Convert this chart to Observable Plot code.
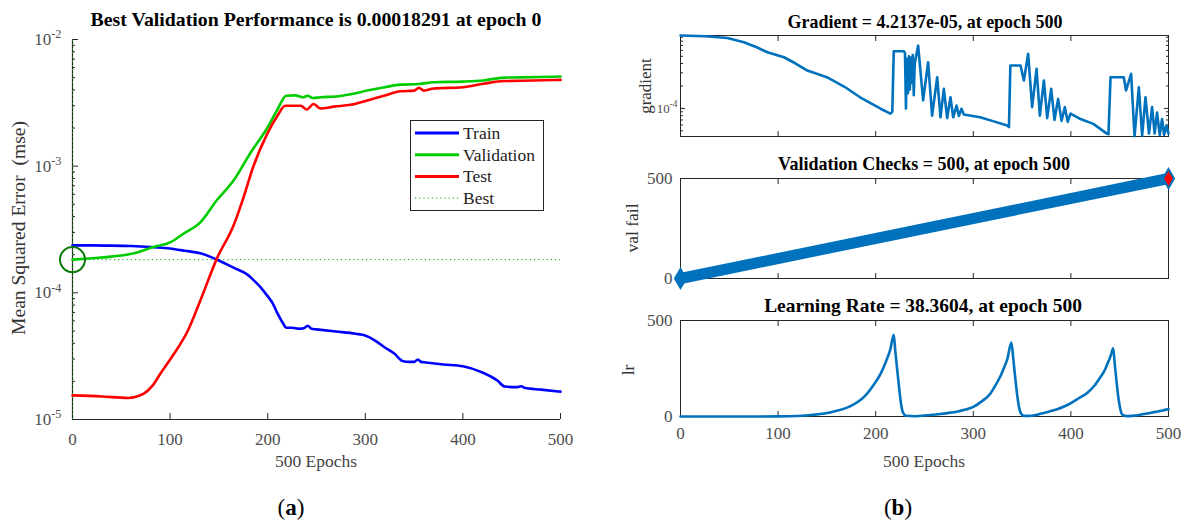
<!DOCTYPE html>
<html>
<head>
<meta charset="utf-8">
<script src="https://cdn.jsdelivr.net/npm/d3@7"></script>
<script src="https://cdn.jsdelivr.net/npm/@observablehq/plot@0.6"></script>
<style>
  body { margin: 0; background: #fff; }
  #root { position: relative; width: 1189px; height: 525px; overflow: hidden; background: #fff;
          font-family: "Liberation Serif", "Times New Roman", serif; }
  .pane { position: absolute; }
  .pane svg { display: block; max-width: none !important; }
  #overlay { position: absolute; left: 0; top: 0; pointer-events: none; }
</style>
</head>
<body>
<div id="root"></div>
<script>
// ---------------- Panel (a): performance ----------------
const trainEpochs = [0, 20, 40, 60, 80, 97, 115, 131, 150, 165, 180, 186, 193, 199.5, 205, 209.5, 216, 219, 225, 232, 237, 241, 245, 250, 270, 290, 300, 310, 320, 330, 338, 345, 350, 354, 357, 362, 380, 400, 420, 435, 443, 455, 460, 463, 480, 500];
const trainMse    = [2.37e-4, 2.37e-4, 2.36e-4, 2.34e-4, 2.30e-4, 2.25e-4, 2.15e-4, 2.05e-4, 1.80e-4, 1.58e-4, 1.38e-4, 1.25e-4, 1.10e-4, 9.5e-5, 8.3e-5, 7.0e-5, 5.7e-5, 5.3e-5, 5.3e-5, 5.2e-5, 5.25e-5, 5.5e-5, 5.2e-5, 5.15e-5, 4.95e-5, 4.75e-5, 4.6e-5, 4.2e-5, 3.7e-5, 3.3e-5, 2.9e-5, 2.85e-5, 2.85e-5, 2.98e-5, 2.85e-5, 2.82e-5, 2.72e-5, 2.63e-5, 2.35e-5, 2.04e-5, 1.82e-5, 1.80e-5, 1.83e-5, 1.78e-5, 1.72e-5, 1.66e-5];

const valEpochs = [0, 29, 63, 83, 100, 114, 131, 148, 165, 182, 199.5, 209.5, 219, 228, 236, 241, 246, 254, 270, 285, 302, 320, 336, 355, 370, 400, 421, 442, 460, 500];
const valMse    = [1.8291e-4, 1.9e-4, 2.05e-4, 2.3e-4, 2.5e-4, 2.94e-4, 3.6e-4, 5.4e-4, 7.7e-4, 1.26e-3, 2.0e-3, 2.75e-3, 3.6e-3, 3.62e-3, 3.5e-3, 3.6e-3, 3.45e-3, 3.5e-3, 3.55e-3, 3.7e-3, 3.95e-3, 4.2e-3, 4.4e-3, 4.45e-3, 4.6e-3, 4.65e-3, 4.75e-3, 5.0e-3, 5.02e-3, 5.1e-3];

const testEpochs = [0, 30, 57, 73, 82, 90, 104, 118, 131, 148, 165, 175, 185, 199.5, 210, 218, 228, 234, 240, 247, 254, 268, 285, 302, 319, 336, 350, 355, 360, 370, 400, 421, 442, 460, 500];
const testMse    = [1.55e-5, 1.52e-5, 1.48e-5, 1.6e-5, 1.85e-5, 2.3e-5, 3.3e-5, 5.0e-5, 8.7e-5, 1.87e-4, 3.4e-4, 5.6e-4, 9.8e-4, 1.8e-3, 2.5e-3, 3.0e-3, 3.0e-3, 3.0e-3, 2.8e-3, 3.1e-3, 2.85e-3, 2.95e-3, 3.05e-3, 3.3e-3, 3.6e-3, 3.9e-3, 3.95e-3, 4.15e-3, 3.95e-3, 4.1e-3, 4.2e-3, 4.47e-3, 4.7e-3, 4.72e-3, 4.8e-3];

const bestEpoch = 0;
const bestPerf = 0.00018291;

const perfTicks = [1e-5, 1e-4, 1e-3, 1e-2];
const perfMinorTicks = [2e-5,3e-5,4e-5,5e-5,6e-5,7e-5,8e-5,9e-5, 2e-4,3e-4,4e-4,5e-4,6e-4,7e-4,8e-4,9e-4, 2e-3,3e-3,4e-3,5e-3,6e-3,7e-3,8e-3,9e-3];
const epochTicks = [0, 100, 200, 300, 400, 500];
const innerEpochTicks = [100, 200, 300, 400];

// ---------------- Panel (b): training state ----------------
const gradEpochs = [0, 25, 48, 65, 78, 89, 106, 118, 130, 150, 168, 184, 205, 215, 217, 218.5, 229, 230, 231, 232, 233, 234, 235, 236, 237, 238, 239, 240, 243.5, 248.6, 253.7, 257.8, 263, 266.4, 269.8, 273.2, 276.6, 279.4, 282.8, 285.2, 287.9, 290.3, 307, 321, 334.7, 336.5, 338, 348.4, 351.8, 356.2, 360.3, 364.8, 368.2, 372.3, 375.7, 379.8, 383.2, 386.9, 390.4, 393.8, 396.7, 399.6, 409.8, 423, 437.2, 438.5, 440.6, 454.2, 456.5, 461.7, 465.2, 469.6, 473, 476.4, 480, 483.2, 485.8, 488.3, 491, 493.4, 495.5, 497.8, 500];
const gradValues = [9.5e-4, 9.3e-4, 8.8e-4, 7.7e-4, 6.6e-4, 5.66e-4, 4.85e-4, 4.0e-4, 3.22e-4, 2.62e-4, 1.95e-4, 1.41e-4, 9.9e-5, 8.5e-5, 9.0e-5, 5.84e-4, 5.84e-4, 5.5e-4, 1.0e-4, 4.6e-4, 1.6e-4, 5.0e-4, 1.8e-4, 4.8e-4, 2.2e-4, 5.2e-4, 1.5e-4, 4.0e-4, 6.97e-4, 1.28e-4, 4.16e-4, 8.0e-5, 2.62e-4, 7.6e-5, 1.83e-4, 7.4e-5, 1.41e-4, 7.6e-5, 1.09e-4, 7.9e-5, 9.9e-5, 8.3e-5, 7.6e-5, 6.7e-5, 5.9e-5, 5.6e-5, 3.76e-4, 3.76e-4, 2.37e-4, 5.4e-4, 1.04e-4, 3.39e-4, 8.0e-5, 2.37e-4, 7.4e-5, 1.83e-4, 7.0e-5, 1.34e-4, 6.8e-5, 1.04e-4, 6.6e-5, 8.5e-5, 7.2e-5, 6.2e-5, 4.56e-5, 4.5e-5, 2.62e-4, 2.62e-4, 1.74e-4, 2.91e-4, 4.25e-5, 1.92e-4, 4.3e-5, 1.41e-4, 4.6e-5, 1.04e-4, 4.6e-5, 8.8e-5, 4.4e-5, 7.2e-5, 4.4e-5, 5.9e-5, 4.6e-5];
const gradTicks = [1e-4];
const gradMinorTicks = [5e-5,6e-5,7e-5,8e-5,9e-5, 2e-4,3e-4,4e-4,5e-4,6e-4,7e-4,8e-4,9e-4];

const valFailEpochs = [0, 500];
const valFail = [0, 500];
const valFailTicks = [0, 500];

const lrEpochs = [0, 50, 100, 120, 136, 150, 157, 170, 177, 185, 191, 198, 205, 210, 215, 218.5, 220, 222, 224, 226, 228, 231, 240, 246, 256, 266, 275, 283, 292, 300, 309, 317.6, 323, 328, 332, 335, 339, 341, 343, 345, 347, 349, 352, 360, 369, 378, 386, 393, 400, 408, 417, 424, 430, 434, 437, 441, 443.3, 445, 447, 449, 451, 453, 458, 470, 478, 487, 494, 500];
const lrValues = [0.01, 0.05, 0.6, 3, 9, 18, 26, 45, 62, 88, 118, 165, 222, 280, 350, 425, 345, 245, 150, 65, 20, 4, 1.5, 4, 8, 13, 19, 25, 36, 50, 80, 120, 165, 212, 260, 302, 385, 300, 200, 110, 45, 14, 3, 4, 14, 26, 38, 52, 70, 95, 124, 160, 203, 235, 269, 320, 355, 270, 170, 85, 30, 8, 2, 8, 16, 24, 31, 38.36];
const lrTicks = [0, 500];

// ---------------- helpers ----------------
const zipXY = (xs, ys, kx, ky) => xs.map((x, i) => ({[kx]: x, [ky]: ys[i]}));
const AX = "#262626", TXT = "#4d4d4d", MATBLUE = "#0072bd";
const FONT = "Liberation Serif, Times New Roman, serif";
const baseStyle = {fontFamily: FONT, fontSize: "17px", color: TXT, background: "transparent", overflow: "visible"};
const blank = () => "";
const pow10 = d => "10^" + Math.round(Math.log10(d));

function superscripts(svg) {
  svg.querySelectorAll("text").forEach(t => {
    const m = /^10\^(-?\d+)$/.exec(t.textContent);
    if (!m) return;
    while (t.firstChild) t.removeChild(t.firstChild);
    t.appendChild(document.createTextNode("10"));
    const ts = document.createElementNS("http://www.w3.org/2000/svg", "tspan");
    ts.setAttribute("dy", "-0.55em");
    ts.setAttribute("font-size", "0.72em");
    ts.textContent = m[1];
    t.appendChild(ts);
  });
}

const root = document.getElementById("root");
function place(el, left, top) {
  const d = document.createElement("div");
  d.className = "pane";
  d.style.left = left + "px"; d.style.top = top + "px";
  d.appendChild(el);
  root.appendChild(d);
}

// ---------------- Panel (a) ----------------
const train = zipXY(trainEpochs, trainMse, "epoch", "mse");
const val = zipXY(valEpochs, valMse, "epoch", "mse");
const test = zipXY(testEpochs, testMse, "epoch", "mse");
const GREEN = "#00cc00";

const plotA = Plot.plot({
  width: 600, height: 470,
  marginLeft: 72, marginRight: 40, marginTop: 39, marginBottom: 51,
  x: {domain: [0, 500]},
  y: {type: "log", domain: [1e-5, 1e-2]},
  style: baseStyle,
  marks: [
    Plot.ruleX([0], {stroke: AX, strokeWidth: 1.2}),
    Plot.ruleY([1e-5], {stroke: AX, strokeWidth: 1.2}),
    Plot.axisY(perfMinorTicks, {tickSize: -3, tickFormat: blank, stroke: AX, label: null}),
    Plot.axisY(perfTicks, {tickSize: -6, tickPadding: 17, tickFormat: pow10, stroke: AX, fill: TXT, label: null}),
    Plot.axisX(epochTicks, {tickSize: -6, tickPadding: 19, stroke: AX, fill: TXT, label: null}),
    Plot.ruleX([bestEpoch], {y1: 1e-5, y2: 1e-2, stroke: "#00a800", strokeDasharray: "1.2,3"}),
    Plot.ruleY([bestPerf], {x1: 0, x2: 500, stroke: "#00a800", strokeDasharray: "1.2,3"}),
    Plot.line(train, {x: "epoch", y: "mse", stroke: "#0000ff", strokeWidth: 2.6, curve: "monotone-x"}),
    Plot.line(val, {x: "epoch", y: "mse", stroke: GREEN, strokeWidth: 2.6, curve: "monotone-x"}),
    Plot.line(test, {x: "epoch", y: "mse", stroke: "#ff0000", strokeWidth: 2.6, curve: "monotone-x"}),
    Plot.dot([{epoch: bestEpoch, mse: bestPerf}], {x: "epoch", y: "mse", r: 12.5, stroke: "#0b7a0b", strokeWidth: 2, fill: "none"})
  ]
});
superscripts(plotA);
place(plotA, 0, 0);

// ---------------- Panel (b) gradient ----------------
const grad = zipXY(gradEpochs, gradValues, "epoch", "g");
const plotG = Plot.plot({
  width: 589, height: 150,
  marginLeft: 80, marginRight: 21, marginTop: 35, marginBottom: 14,
  x: {domain: [0, 500]},
  y: {type: "log", domain: [4.2e-5, 9.5e-4]},
  style: baseStyle,
  marks: [
    Plot.frame({stroke: AX}),
    Plot.axisX(innerEpochTicks, {anchor: "bottom", tickSize: -5, tickFormat: blank, stroke: AX, label: null}),
    Plot.axisX(innerEpochTicks, {anchor: "top", tickSize: -5, tickFormat: blank, stroke: AX, label: null}),
    Plot.axisY(gradMinorTicks, {anchor: "left", tickSize: -3, tickFormat: blank, stroke: AX, label: null}),
    Plot.axisY(gradMinorTicks, {anchor: "right", tickSize: -3, tickFormat: blank, stroke: AX, label: null}),
    Plot.axisY(gradTicks, {anchor: "left", tickSize: -5, tickPadding: 8, tickFormat: pow10, stroke: AX, fill: TXT, fontSize: 13, label: null}),
    Plot.axisY(gradTicks, {anchor: "right", tickSize: -5, tickFormat: blank, stroke: AX, label: null}),
    Plot.line(grad, {x: "epoch", y: "g", stroke: MATBLUE, strokeWidth: 2.6})
  ]
});
superscripts(plotG);
place(plotG, 600, 0);

// ---------------- Panel (b) validation checks ----------------
const vf = zipXY(valFailEpochs, valFail, "epoch", "fails");
const plotV = Plot.plot({
  width: 589, height: 140,
  marginLeft: 80, marginRight: 21, marginTop: 28, marginBottom: 12,
  x: {domain: [0, 500]},
  y: {domain: [0, 500]},
  style: baseStyle,
  marks: [
    Plot.frame({stroke: AX}),
    Plot.axisX(innerEpochTicks, {anchor: "bottom", tickSize: -5, tickFormat: blank, stroke: AX, label: null}),
    Plot.axisX(innerEpochTicks, {anchor: "top", tickSize: -5, tickFormat: blank, stroke: AX, label: null}),
    Plot.axisY(valFailTicks, {anchor: "left", tickSize: -5, tickPadding: 13, stroke: AX, fill: TXT, label: null}),
    Plot.line(vf, {x: "epoch", y: "fails", stroke: MATBLUE, strokeWidth: 11}),
    Plot.dot(vf, {x: "epoch", y: "fails", symbol: "diamond", r: 7, fill: MATBLUE}),
    Plot.dot(vf.slice(-1), {x: "epoch", y: "fails", symbol: "diamond", r: 4.5, fill: "#ff0000"})
  ]
});
place(plotV, 600, 150);

// ---------------- Panel (b) learning rate ----------------
const lr = zipXY(lrEpochs, lrValues, "epoch", "lr");
const plotL = Plot.plot({
  width: 589, height: 165,
  marginLeft: 80, marginRight: 21, marginTop: 25, marginBottom: 44,
  x: {domain: [0, 500]},
  y: {domain: [0, 500]},
  style: baseStyle,
  marks: [
    Plot.frame({stroke: AX}),
    Plot.axisX(epochTicks, {anchor: "bottom", tickSize: -5, tickPadding: 15, stroke: AX, fill: TXT, label: null}),
    Plot.axisX(innerEpochTicks, {anchor: "top", tickSize: -5, tickFormat: blank, stroke: AX, label: null}),
    Plot.axisY(lrTicks, {anchor: "left", tickSize: -5, tickPadding: 13, stroke: AX, fill: TXT, label: null}),
    Plot.line(lr, {x: "epoch", y: "lr", stroke: MATBLUE, strokeWidth: 2.6, curve: "monotone-x"})
  ]
});
place(plotL, 600, 295);

// ---------------- Titles, labels, legend ----------------
const NS = "http://www.w3.org/2000/svg";
const ov = document.createElementNS(NS, "svg");
ov.setAttribute("id", "overlay");
ov.setAttribute("width", 1189); ov.setAttribute("height", 525);
ov.setAttribute("font-family", FONT);
root.appendChild(ov);

function txt(str, x, y, opts = {}) {
  const t = document.createElementNS(NS, "text");
  t.setAttribute("x", x); t.setAttribute("y", y);
  t.setAttribute("text-anchor", opts.anchor || "middle");
  t.setAttribute("font-size", opts.size || 17);
  t.setAttribute("fill", opts.fill || "#000");
  t.setAttribute("xml:space", "preserve");
  t.style.whiteSpace = "pre";
  if (opts.bold) t.setAttribute("font-weight", "bold");
  if (opts.rotate) t.setAttribute("transform", `rotate(-90 ${x} ${y})`);
  t.textContent = str;
  ov.appendChild(t);
  if (opts.width) {
    const w = t.getComputedTextLength();
    if (w > 0) t.setAttribute("font-size", (opts.size || 17) * opts.width / w);
  }
  return t;
}

const titleA = `Best Validation Performance is ${bestPerf.toFixed(8)} at epoch ${bestEpoch}`;
txt(titleA, 316, 26, {bold: true, size: 17, width: 451});
txt("Mean Squared Error  (mse)", 25, 228, {rotate: true, size: 17.5, fill: "#333", width: 214});
txt("500 Epochs", 316, 467, {size: 17.5, fill: "#444"});

const lab = txt("", 291, 515, {size: 23});
lab.innerHTML = '(<tspan font-weight="bold">a</tspan>)';
const labb = txt("", 898, 515, {size: 23});
labb.innerHTML = '(<tspan font-weight="bold">b</tspan>)';

txt("Gradient = 4.2137e-05, at epoch 500", 925, 28, {bold: true, size: 17, width: 275});
txt("Validation Checks = 500, at epoch 500", 924, 170, {bold: true, size: 17, width: 292});
txt("Learning Rate = 38.3604, at epoch 500", 923, 312, {bold: true, size: 17, width: 318});
txt("gradient", 651, 86, {rotate: true, size: 17, fill: "#333"});
txt("val fail", 638, 228, {rotate: true, size: 17.5, fill: "#333"});
txt("lr", 634, 370, {rotate: true, size: 17.5, fill: "#333"});
txt("500 Epochs", 924, 467, {size: 17.5, fill: "#444"});

// Legend
const legend = [
  {name: "Train", color: "#0000ff", dash: null, w: 3},
  {name: "Validation", color: GREEN, dash: null, w: 3},
  {name: "Test", color: "#ff0000", dash: null, w: 3},
  {name: "Best", color: "#00a800", dash: "1.2,3", w: 1}
];
const box = document.createElementNS(NS, "rect");
box.setAttribute("x", 410.5); box.setAttribute("y", 120.5);
box.setAttribute("width", 133); box.setAttribute("height", 90);
box.setAttribute("fill", "#fff"); box.setAttribute("stroke", AX);
ov.appendChild(box);
legend.forEach((e, i) => {
  const y = 133 + i * 21.7;
  const l = document.createElementNS(NS, "line");
  l.setAttribute("x1", 415); l.setAttribute("x2", 459);
  l.setAttribute("y1", y); l.setAttribute("y2", y);
  l.setAttribute("stroke", e.color); l.setAttribute("stroke-width", e.w);
  if (e.dash) l.setAttribute("stroke-dasharray", e.dash);
  ov.appendChild(l);
  txt(e.name, 463, y + 6, {anchor: "start", size: 17.5, fill: "#222"});
});
</script>
</body>
</html>
